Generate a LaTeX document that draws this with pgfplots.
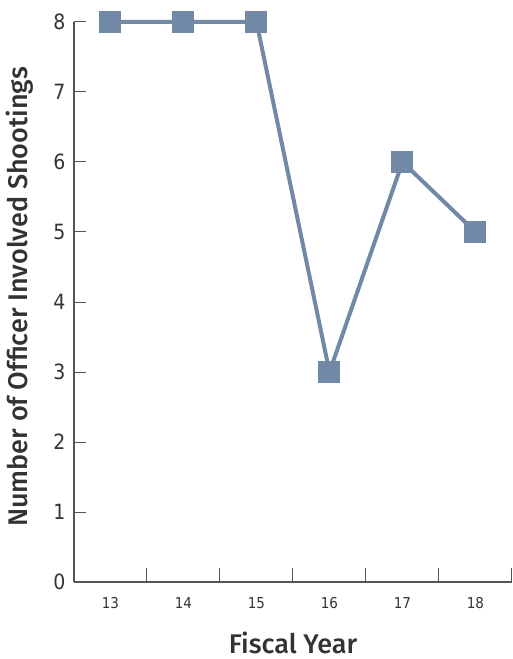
\documentclass[border=0pt]{standalone}
\usepackage{pgfplots}
\pgfplotsset{compat=1.18}
\usepackage{fontspec}
\setmainfont{Fira Sans Medium}
\newfontfamily\cond{DejaVu Sans Condensed}
\definecolor{line}{HTML}{7189A7}
\definecolor{axc}{HTML}{555555}
\definecolor{txt}{HTML}{333333}
\begin{document}
\begin{tikzpicture}
\begin{axis}[name=ax, scale only axis, width=438pt, height=560pt,
  xmin=-0.5, xmax=5.5, ymin=0, ymax=8,
  axis lines*=left, axis line style={axc, line width=1.2pt},
  tick align=inside,
  xtick={0,...,5}, xticklabels={13,14,15,16,17,18},
  minor xtick={0.5,1.5,...,5.5},
  major x tick style={draw=none},
  minor x tick style={axc, line width=1pt},
  minor tick length=14pt,
  ytick={0,...,8}, y tick style={axc, line width=1pt}, major tick length=12pt,
  /pgf/number format/assume math mode=true,
  xticklabel style={font=\cond\fontsize{15}{15}\selectfont, text=txt, anchor=center, yshift=-21pt},
  yticklabel style={font=\cond\fontsize{21}{21}\selectfont, text=txt, xshift=-5pt},
  xlabel={Fiscal Year}, ylabel={Number of Officer Involved Shootings},
  label style={font=\fontsize{27}{27}\selectfont, text=txt},
  xlabel style={at={(axis description cs:0.5,-0.1268)}, anchor=base},
  ylabel style={at={(axis description cs:-0.1233,0.509)}, anchor=center},
  clip=false]
\addplot[line, line width=4pt, mark=square*, mark size=9pt, mark options={fill=line, draw=none}] coordinates {(0,8)(1,8)(2,8)(3,3)(4,6)(5,5)};
\end{axis}
\pgfresetboundingbox
\path ([xshift=-74pt,yshift=-77pt]ax.south west) rectangle ([xshift=1pt,yshift=22pt]ax.north east);
\end{tikzpicture}
\end{document}
